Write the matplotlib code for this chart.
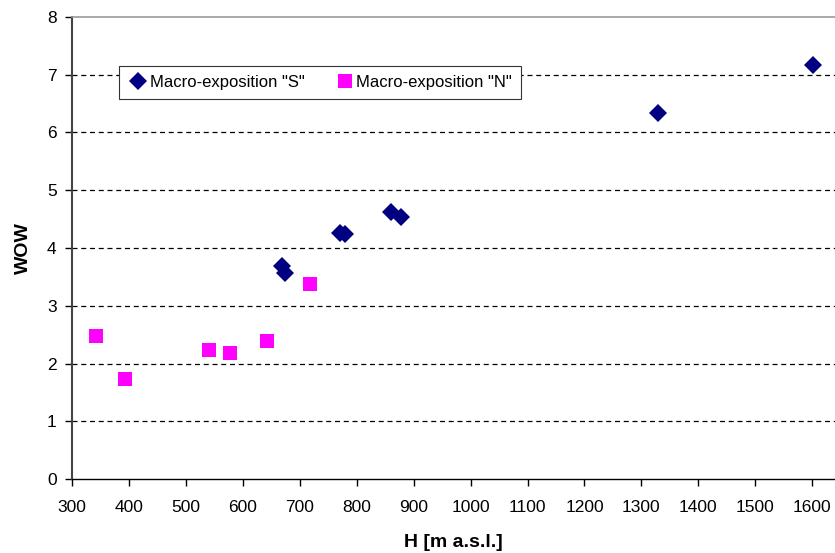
import matplotlib
matplotlib.use('Agg')
import matplotlib.pyplot as plt

plt.rcParams['font.family'] = ['Liberation Sans', 'DejaVu Sans']

# Macro-exposition "S" (south facing sites)
h_s = [669, 674, 770, 779, 860, 877, 1330, 1602]
wow_s = [3.69, 3.56, 4.26, 4.25, 4.62, 4.54, 6.33, 7.17]

# Macro-exposition "N" (north facing sites)
h_n = [342, 393, 540, 577, 643, 718]
wow_n = [2.48, 1.73, 2.24, 2.19, 2.39, 3.37]

xticks = list(range(300, 1700, 100))
yticks = list(range(0, 9))

fig = plt.figure(figsize=(8.35, 5.53), dpi=100)
ax = fig.add_axes([0.0862, 0.1338, 0.9138, 0.8355])

ax.plot(h_s, wow_s, 'D', color='#000080', markersize=8.8, markeredgewidth=0,
        label='Macro-exposition "S"', zorder=3)
ax.plot(h_n, wow_n, 's', color='#FF00FF', markersize=10, markeredgewidth=0,
        label='Macro-exposition "N"', zorder=3)

ax.set_xlim(300, 1640)
ax.set_ylim(0, 8)
ax.set_xticks(xticks)
ax.set_yticks(yticks)
ax.tick_params(labelsize=12.5, direction='out', length=5, width=1, colors='black', pad=6)
ax.tick_params(axis='x', pad=10)

for y in yticks[1:-1]:
    ax.axhline(y, color='black', linestyle=(0, (4, 3)), linewidth=0.9, zorder=1)

ax.spines['right'].set_visible(False)
ax.spines['top'].set_color('#999999')
ax.spines['top'].set_linewidth(1.2)
ax.spines['left'].set_color('#444444')
ax.spines['left'].set_linewidth(1.5)
ax.spines['bottom'].set_color('black')
ax.spines['bottom'].set_linewidth(1)

ax.set_xlabel('H [m a.s.l.]', fontsize=14, fontweight='bold', labelpad=14)
ax.set_ylabel('WOW', fontsize=14, fontweight='bold', labelpad=11)

leg = ax.legend(loc='upper left', bbox_to_anchor=(0.0616, 0.894), ncol=2,
                fontsize=12, frameon=True, fancybox=False, handletextpad=0.1,
                columnspacing=1.8, borderpad=0.55, handlelength=1.2,
                borderaxespad=0, framealpha=1)
leg.get_frame().set_edgecolor('#333333')
leg.get_frame().set_linewidth(0.8)

plt.savefig('out.png', dpi=100)
